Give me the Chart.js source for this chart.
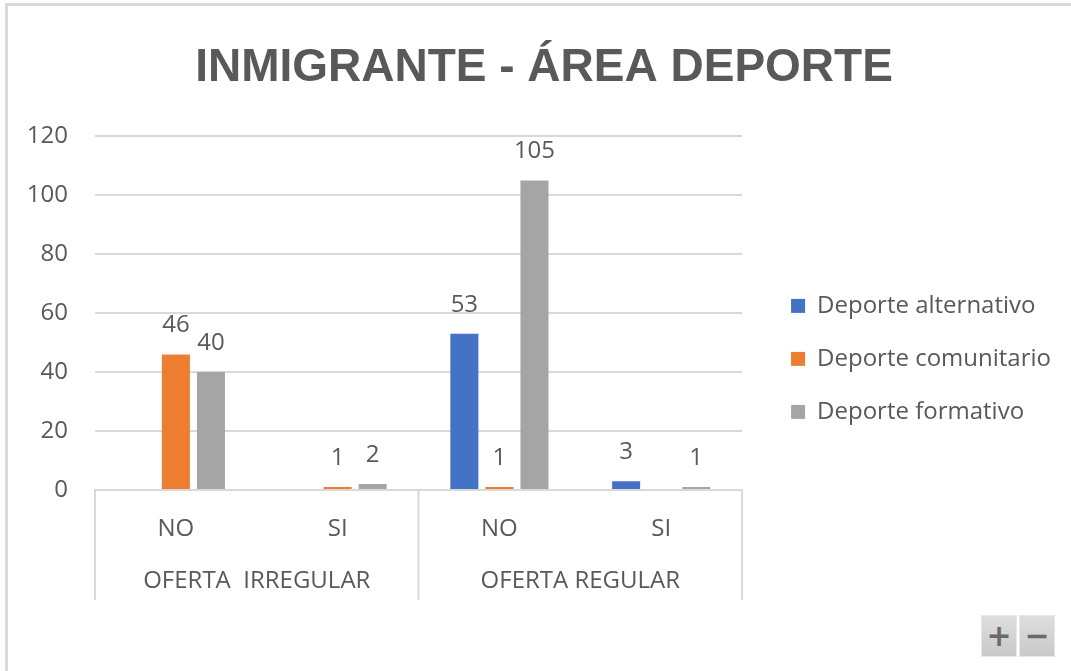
<!DOCTYPE html>
<html lang="es">
<head>
    <meta charset="UTF-8">
    <title>Inmigrante - Área Deporte</title>
    <script src="https://cdn.jsdelivr.net/npm/chart.js"></script>
    <style>
        body { margin: 0; background: #fff; }
        #frame {
            position: absolute; left: 5px; top: 3px; width: 1066px; height: 668px;
            border-left: 3px solid #dadada; border-top: 3px solid #dadada;
        }
        #chart-box { position: absolute; left: 0; top: 0; width: 1071px; height: 671px; }
        .zoom-btn {
            position: absolute; top: 615px; width: 36px; height: 42px;
            background: linear-gradient(#dedede, #c9c9c9);
            color: #6a6a6a; font: bold 30px "DejaVu Sans", sans-serif;
            text-align: center; line-height: 40px; border: 1px solid #e6e6e6; box-sizing: border-box;
        }
    </style>
</head>
<body>
    <div id="frame"></div>
    <div id="chart-box"><canvas id="deporteChart"></canvas></div>
    <div class="zoom-btn" style="left:981px;">+</div>
    <div class="zoom-btn" style="left:1019px;">&minus;</div>

    <script>
        // chart data
        const categories = ['NO', 'SI', 'NO', 'SI'];
        const groupLabels = ['OFERTA  IRREGULAR', 'OFERTA REGULAR'];
        const groupSizes = [2, 2];
        const seriesNames = ['Deporte alternativo', 'Deporte comunitario', 'Deporte formativo'];
        const alternativo = [null, null, 53, 3];
        const comunitario = [46, 1, 1, null];
        const formativo = [40, 2, 105, 1];
        const yTicks = [0, 20, 40, 60, 80, 100, 120];

        const colors = ['#4472C4', '#ED7D31', '#A5A5A5'];
        const textColor = '#595959';
        const bodyFont = '"Open Sans", "Noto Sans", sans-serif';
        const bodySize = 24;

        // value labels above each bar
        const barLabels = {
            id: 'barLabels',
            afterDatasetsDraw(chart) {
                const ctx = chart.ctx;
                ctx.save();
                ctx.font = bodySize + 'px ' + bodyFont;
                ctx.fillStyle = textColor;
                ctx.textAlign = 'center';
                ctx.textBaseline = 'alphabetic';
                chart.data.datasets.forEach((ds, i) => {
                    const meta = chart.getDatasetMeta(i);
                    meta.data.forEach((bar, j) => {
                        if (ds.data[j] === null) return;
                        ctx.fillText(ds.data[j], bar.x, bar.y - 22);
                    });
                });
                ctx.restore();
            }
        };

        // second level of the category axis (group labels + separators)
        const groupAxis = {
            id: 'groupAxis',
            afterDraw(chart) {
                const ctx = chart.ctx;
                const x = chart.scales.x;
                const w = (x.right - x.left) / categories.length;
                const top = x.top;
                const bottom = top + 110;
                ctx.save();
                ctx.strokeStyle = '#d9d9d9';
                ctx.lineWidth = 2;
                ctx.font = bodySize + 'px ' + bodyFont;
                ctx.fillStyle = textColor;
                ctx.textAlign = 'center';
                ctx.textBaseline = 'middle';
                let start = 0;
                const edges = [x.left];
                groupSizes.forEach((n, g) => {
                    const gx0 = x.left + start * w;
                    const gx1 = x.left + (start + n) * w;
                    edges.push(gx1);
                    ctx.fillText(groupLabels[g], (gx0 + gx1) / 2, top + 91);
                    start += n;
                });
                edges.forEach(ex => {
                    ctx.beginPath();
                    ctx.moveTo(ex, top);
                    ctx.lineTo(ex, bottom);
                    ctx.stroke();
                });
                ctx.restore();
            }
        };

        const ctx = document.getElementById('deporteChart').getContext('2d');
        const deporteChart = new Chart(ctx, {
            type: 'bar',
            data: {
                labels: categories,
                datasets: [
                    { label: seriesNames[0], data: alternativo, backgroundColor: colors[0] },
                    { label: seriesNames[1], data: comunitario, backgroundColor: colors[1] },
                    { label: seriesNames[2], data: formativo, backgroundColor: colors[2] }
                ]
            },
            options: {
                responsive: true,
                maintainAspectRatio: false,
                animation: false,
                categoryPercentage: 0.65,
                barPercentage: 0.8,
                layout: { padding: { left: 27, right: 10, top: 0, bottom: 71 } },
                plugins: {
                    title: {
                        display: true,
                        text: 'INMIGRANTE - ÁREA DEPORTE',
                        color: textColor,
                        font: { family: '"Liberation Sans Narrow", sans-serif', size: 46, weight: 'bold' },
                        padding: { top: 41, bottom: 40 }
                    },
                    legend: {
                        position: 'right',
                        maxWidth: 320,
                        // empty title only pushes the items down to where Excel puts them
                        title: { display: true, text: ' ', font: { size: 24 }, padding: { top: 89, bottom: 0 } },
                        labels: {
                            color: textColor,
                            font: { family: bodyFont, size: bodySize },
                            boxWidth: 14,
                            boxHeight: 14,
                            padding: 29
                        }
                    },
                    tooltip: { enabled: false }
                },
                scales: {
                    x: {
                        grid: { display: false },
                        border: { display: true, color: '#d9d9d9', width: 2 },
                        ticks: { color: textColor, font: { family: bodyFont, size: bodySize }, padding: 17 },
                        afterFit(scale) { scale.height = 110; }
                    },
                    y: {
                        min: 0,
                        max: 120,
                        afterBuildTicks(scale) { scale.ticks = yTicks.map(v => ({ value: v })); },
                        grid: { color: '#d9d9d9', lineWidth: 2, drawTicks: false },
                        border: { display: false },
                        ticks: { color: textColor, font: { family: bodyFont, size: bodySize }, padding: 27 },
                        afterFit(scale) { scale.width = 68; }
                    },
                    gap: {
                        position: 'right',
                        display: true,
                        grid: { display: false },
                        border: { display: false },
                        ticks: { display: false },
                        afterFit(scale) { scale.width = 20; }
                    }
                }
            },
            plugins: [barLabels, groupAxis]
        });
    </script>
</body>
</html>
